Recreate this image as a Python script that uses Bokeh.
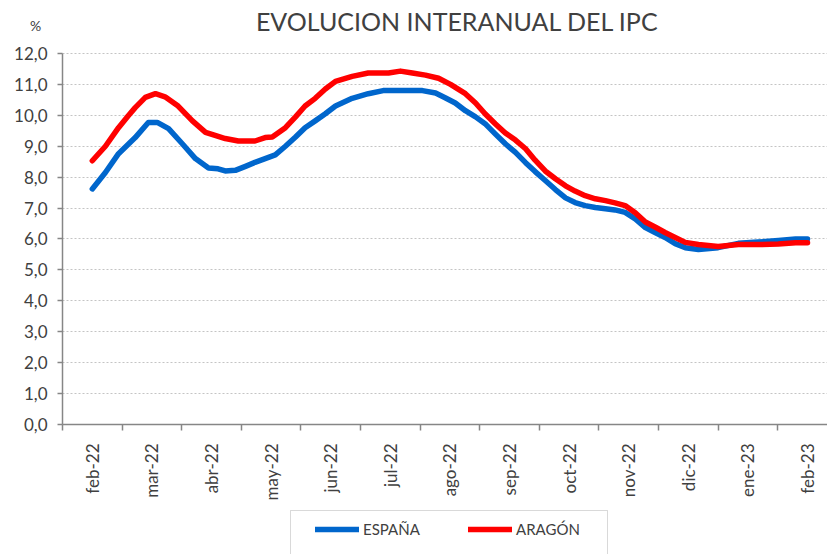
from math import pi
from bokeh.plotting import figure
from bokeh.models import (Range1d, FixedTicker, CustomJSTickFormatter, Legend,
                          LegendItem, Label, BoxAnnotation)
from bokeh.embed import file_html
from bokeh.resources import INLINE

# ---- data ----
months = ["feb-22", "mar-22", "abr-22", "may-22", "jun-22", "jul-22", "ago-22",
          "sep-22", "oct-22", "nov-22", "dic-22", "ene-23", "feb-23"]

# position in months since feb-22
esp_t = [0.00, 0.22, 0.44, 0.72, 0.94, 1.09, 1.28, 1.51, 1.73, 1.95, 2.11, 2.23, 2.40,
         2.57, 2.73, 2.90, 3.07, 3.24, 3.41, 3.57, 3.74, 3.91, 4.08, 4.36, 4.63, 4.88,
         5.17, 5.54, 5.76, 5.92, 6.09, 6.26, 6.43, 6.59, 6.76, 6.93, 7.10, 7.27, 7.43,
         7.60, 7.77, 7.94, 8.10, 8.27, 8.44, 8.61, 8.77, 8.94, 9.11, 9.28, 9.45, 9.61,
         9.78, 9.95, 10.17, 10.50, 10.84, 11.17, 11.51, 11.80, 12.00]
esp_v = [7.62, 8.15, 8.76, 9.28, 9.77, 9.77, 9.57, 9.08, 8.60, 8.30, 8.27, 8.20, 8.22,
         8.35, 8.48, 8.60, 8.72, 9.00, 9.30, 9.60, 9.82, 10.05, 10.30, 10.55, 10.70, 10.80,
         10.80, 10.80, 10.72, 10.57, 10.40, 10.15, 9.95, 9.73, 9.40, 9.08, 8.80, 8.47, 8.18,
         7.89, 7.60, 7.33, 7.18, 7.08, 7.02, 6.98, 6.94, 6.86, 6.65, 6.37, 6.20, 6.05,
         5.85, 5.72, 5.66, 5.72, 5.86, 5.90, 5.95, 6.00, 6.00]

ara_t = [0.00, 0.22, 0.44, 0.60, 0.72, 0.89, 1.06, 1.22, 1.44, 1.68, 1.90, 2.06, 2.23,
         2.45, 2.73, 2.90, 3.02, 3.24, 3.41, 3.57, 3.74, 3.91, 4.08, 4.36, 4.63, 4.97,
         5.17, 5.37, 5.59, 5.81, 6.01, 6.26, 6.43, 6.59, 6.76, 6.93, 7.10, 7.27, 7.43,
         7.60, 7.77, 7.94, 8.10, 8.27, 8.44, 8.61, 8.77, 8.94, 9.11, 9.28, 9.45, 9.61,
         9.78, 9.95, 10.17, 10.50, 10.84, 11.17, 11.51, 11.80, 12.00]
ara_v = [8.53, 9.00, 9.60, 9.98, 10.25, 10.58, 10.70, 10.60, 10.30, 9.82, 9.45, 9.35, 9.25,
         9.17, 9.17, 9.28, 9.30, 9.60, 9.95, 10.30, 10.55, 10.85, 11.10, 11.26, 11.37, 11.37,
         11.43, 11.37, 11.30, 11.20, 11.00, 10.70, 10.40, 10.05, 9.73, 9.43, 9.20, 8.92, 8.55,
         8.20, 7.95, 7.72, 7.55, 7.40, 7.30, 7.24, 7.17, 7.08, 6.85, 6.55, 6.38, 6.21,
         6.05, 5.89, 5.82, 5.76, 5.82, 5.82, 5.84, 5.88, 5.88]

y_ticks = list(range(0, 13))

FONT = "Lato"
TXT = "#404040"
AXIS = "#868686"

# ---- page geometry (pixels) ----
W, H = 827, 554
X0_PX, CAT_PX = 62, 59.6      # left of plot area, width of one month
Y0_PX, UNIT_PX = 424, 30.917  # y of value 0, pixels per 1 point


def ux(px):
    return (px - X0_PX) / CAT_PX


def vy(py):
    return (Y0_PX - py) / UNIT_PX


# category centres sit at i + 0.5
esp_x = [t + 0.5 for t in esp_t]
ara_x = [t + 0.5 for t in ara_t]

p = figure(width=W, height=H, output_backend="svg", toolbar_location=None,
           x_range=Range1d(ux(0), ux(W)), y_range=Range1d(vy(H), vy(0)),
           min_border=0, min_border_left=0, min_border_right=0,
           min_border_top=0, min_border_bottom=0)
p.outline_line_color = None
p.background_fill_color = "white"
p.border_fill_color = "white"

# x axis (drawn at value 0)
p.xaxis.fixed_location = 0
p.xaxis.bounds = (0, len(months))
p.xaxis.ticker = FixedTicker(ticks=[i + 0.5 for i in range(len(months))],
                             minor_ticks=list(range(len(months) + 1)))
p.xaxis.formatter = CustomJSTickFormatter(args=dict(months=months),
                                          code="return months[Math.floor(tick)];")
p.xaxis.major_tick_out = 0
p.xaxis.major_tick_in = 0
p.xaxis.minor_tick_out = 6
p.xaxis.minor_tick_in = 0
p.xaxis.minor_tick_line_color = AXIS
p.xaxis.axis_line_color = AXIS
p.xaxis.axis_line_width = 1.5
p.xaxis.minor_tick_line_width = 1.5
p.xaxis.major_label_orientation = pi / 2
p.xaxis.major_label_standoff = 13
p.xaxis.major_label_text_font = FONT
p.xaxis.major_label_text_font_size = "17px"
p.xaxis.major_label_text_color = TXT
p.xgrid.visible = False

# y axis (drawn at x = 0)
p.yaxis.fixed_location = 0
p.yaxis.bounds = (0, 12)
p.yaxis.ticker = FixedTicker(ticks=y_ticks, minor_ticks=[])
p.yaxis.formatter = CustomJSTickFormatter(code="return tick.toFixed(1).replace('.', ',');")
p.yaxis.major_tick_out = 5
p.yaxis.major_tick_in = 0
p.yaxis.minor_tick_out = 0
p.yaxis.major_tick_line_color = AXIS
p.yaxis.major_tick_line_width = 1.5
p.yaxis.axis_line_color = AXIS
p.yaxis.axis_line_width = 1.5
p.yaxis.major_label_standoff = 10
p.yaxis.major_label_text_font = FONT
p.yaxis.major_label_text_font_size = "17px"
p.yaxis.major_label_text_color = TXT
p.ygrid.ticker = FixedTicker(ticks=y_ticks)
p.ygrid.cross_bounds = (0, 14)
p.ygrid.grid_line_color = "#c4c4c4"
p.ygrid.grid_line_dash = "2 2"
p.ygrid.grid_line_width = 1

r_esp = p.line(esp_x, esp_v, line_color="#0066CC", line_width=5.5,
               line_join="round", line_cap="round")
r_ara = p.line(ara_x, ara_v, line_color="#FF0000", line_width=5.5,
               line_join="round", line_cap="round")

p.add_layout(Label(x=ux(457), y=vy(20), text="EVOLUCION INTERANUAL DEL IPC",
                   text_font=FONT, text_font_size="25px", text_color=TXT,
                   text_align="center", text_baseline="middle"))
p.add_layout(Label(x=ux(35), y=vy(25), text="%", text_font=FONT, text_font_size="14px",
                   text_color=TXT, text_align="center", text_baseline="middle"))

# legend frame (runs past the bottom edge, as in the original)
p.add_layout(BoxAnnotation(left=ux(290), right=ux(607), top=vy(510), bottom=vy(H + 40),
                           fill_color="white", fill_alpha=1, line_color="#808080",
                           line_width=1, level="overlay"))

legend = Legend(items=[LegendItem(label="ESPAÑA", renderers=[r_esp]),
                       LegendItem(label="ARAGÓN", renderers=[r_ara])],
                orientation="horizontal", location=(315, H - 539))
legend.label_text_font = FONT
legend.label_text_font_size = "15px"
legend.label_text_color = TXT
legend.border_line_color = None
legend.background_fill_alpha = 0
legend.glyph_width = 44
legend.glyph_height = 20
legend.label_height = 20
legend.label_standoff = 4
legend.label_width = 70
legend.spacing = 35
legend.padding = 0
legend.margin = 0
p.add_layout(legend, "center")

open("out.html", "w").write(file_html(p, INLINE))
